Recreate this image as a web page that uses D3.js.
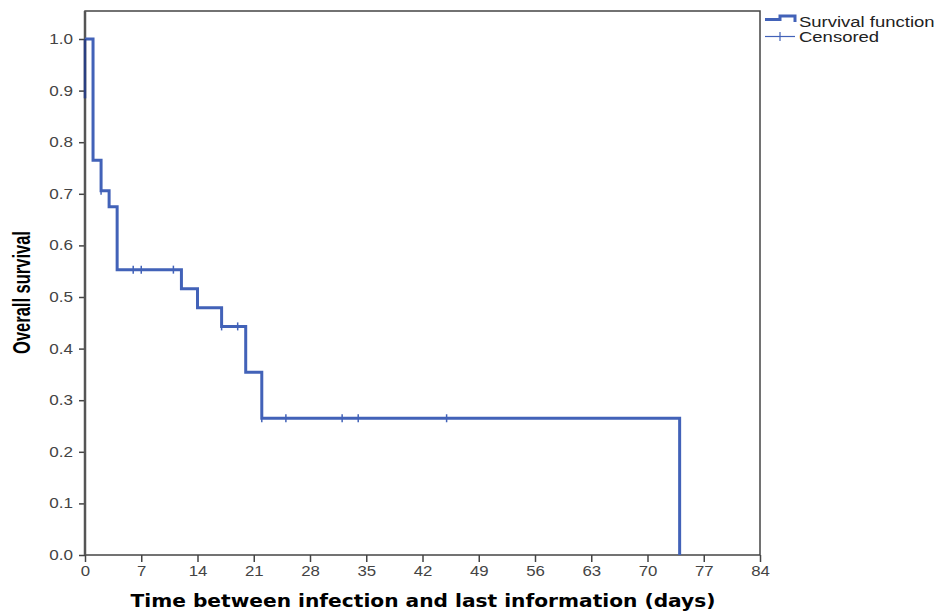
<!DOCTYPE html>
<html lang="en">
<head>
<meta charset="UTF-8">
<title>Overall survival</title>
<script src="https://d3js.org/d3.v7.min.js"></script>
<style>
body { margin: 0; background: #fff; }
svg { display: block; }
.tick text { font-family: "Liberation Sans", Arial, sans-serif; font-size: 14px; fill: #444; }
.tick line { stroke: #444; stroke-width: 1.5; }
.domain { stroke: none; }
</style>
</head>
<body>
<script>
// step curve: event times and survival right after each drop
const eventTimes = [1, 2, 3, 4, 12, 14, 17, 20, 22, 74];
const survival = [0.765, 0.706, 0.675, 0.553, 0.516, 0.479, 0.443, 0.354, 0.265, 0.0];
// censored cases
const censorTimes = [2, 6, 7, 11, 17, 19, 22, 25, 32, 34, 45];
const censorSurv = [0.706, 0.553, 0.553, 0.553, 0.443, 0.443, 0.265, 0.265, 0.265, 0.265, 0.265];
const xTicks = [0, 7, 14, 21, 28, 35, 42, 49, 56, 63, 70, 77, 84];
const yTicks = [0, 0.1, 0.2, 0.3, 0.4, 0.5, 0.6, 0.7, 0.8, 0.9, 1.0];

const w = 936, h = 611;
const plotL = 85, plotR = 760, plotT = 11, plotB = 555;
const blue = '#4262b8';

const svg = d3.select('body').append('svg').attr('width', w).attr('height', h);

const x = d3.scaleLinear().domain([0, 84]).range([plotL, plotR]);
const y = d3.scaleLinear().domain([0, 1]).range([plotB, 39]);

// the source picture is stretched sideways, so widen horizontal text a bit
function widen(sel, k) {
    sel.each(function () {
        const len = this.getComputedTextLength();
        d3.select(this).attr('textLength', len * k).attr('lengthAdjust', 'spacingAndGlyphs');
    });
}

// axes
const gx = svg.append('g').attr('transform', 'translate(0,' + plotB + ')')
    .call(d3.axisBottom(x).tickValues(xTicks).tickSize(7).tickPadding(4).tickFormat(d3.format('d')));
const gy = svg.append('g').attr('transform', 'translate(' + plotL + ',0)')
    .call(d3.axisLeft(y).tickValues(yTicks).tickSize(6).tickPadding(6).tickFormat(d3.format('.1f')));
widen(gx.selectAll('text'), 1.2);
widen(gy.selectAll('text'), 1.22);

// frame
svg.append('rect').attr('x', plotL).attr('y', plotT).attr('width', plotR - plotL).attr('height', plotB - plotT)
    .attr('fill', 'none').attr('stroke', '#444').attr('stroke-width', 1.5);
svg.append('line').attr('x1', plotL).attr('x2', plotL).attr('y1', plotT).attr('y2', plotB)
    .attr('stroke', '#555').attr('stroke-width', 2.5);

// survival step line
const pts = [[0, 1.0]];
let prev = 1.0;
eventTimes.forEach((t, i) => {
    pts.push([t, prev]);
    pts.push([t, survival[i]]);
    prev = survival[i];
});
const line = d3.line().x(d => x(d[0])).y(d => y(d[1]));
svg.append('path').attr('d', line(pts)).attr('fill', 'none')
    .attr('stroke', blue).attr('stroke-width', 3).attr('stroke-linejoin', 'miter');
// short dark stub on the axis at time 0
svg.append('line').attr('x1', x(0)).attr('x2', x(0)).attr('y1', y(1.0)).attr('y2', y(0.885))
    .attr('stroke', '#2a3f80').attr('stroke-width', 2.5);

// censor marks
svg.selectAll('.cens').data(censorTimes).enter().append('line').attr('class', 'cens')
    .attr('x1', d => x(d)).attr('x2', d => x(d))
    .attr('y1', (d, i) => y(censorSurv[i]) - 4).attr('y2', (d, i) => y(censorSurv[i]) + 4)
    .attr('stroke', blue).attr('stroke-width', 1.5);

// legend
const lg = svg.append('g');
lg.append('path').attr('d', 'M765,19.5H780V16H795V22').attr('fill', 'none')
    .attr('stroke', blue).attr('stroke-width', 3);
lg.append('line').attr('x1', 765).attr('x2', 795).attr('y1', 36.5).attr('y2', 36.5)
    .attr('stroke', blue).attr('stroke-width', 1.2);
lg.append('line').attr('x1', 780).attr('x2', 780).attr('y1', 32).attr('y2', 41)
    .attr('stroke', blue).attr('stroke-width', 1.2);
const lt = lg.selectAll('.lt').data(['Survival function', 'Censored']).enter().append('text')
    .attr('x', 799).attr('y', (d, i) => 26.5 + i * 15.5).text(d => d)
    .style('font-family', '"Liberation Sans", Arial, sans-serif').style('font-size', '14px').attr('fill', '#222');
widen(lt, 1.32);

// axis titles
svg.append('text').attr('transform', 'translate(30,292.5) rotate(-90) scale(1,1.4)').attr('text-anchor', 'middle')
    .style('font-family', '"Liberation Sans", Arial, sans-serif')
    .style('font-size', '16.5px').style('font-weight', 'bold').text('Overall survival');
svg.append('text').attr('x', 423).attr('y', 607).attr('text-anchor', 'middle')
    .attr('textLength', 585).attr('lengthAdjust', 'spacingAndGlyphs')
    .style('font-family', '"DejaVu Sans", Verdana, sans-serif')
    .style('font-size', '17px').style('font-weight', 'bold').text('Time between infection and last information (days)');
</script>
</body>
</html>
